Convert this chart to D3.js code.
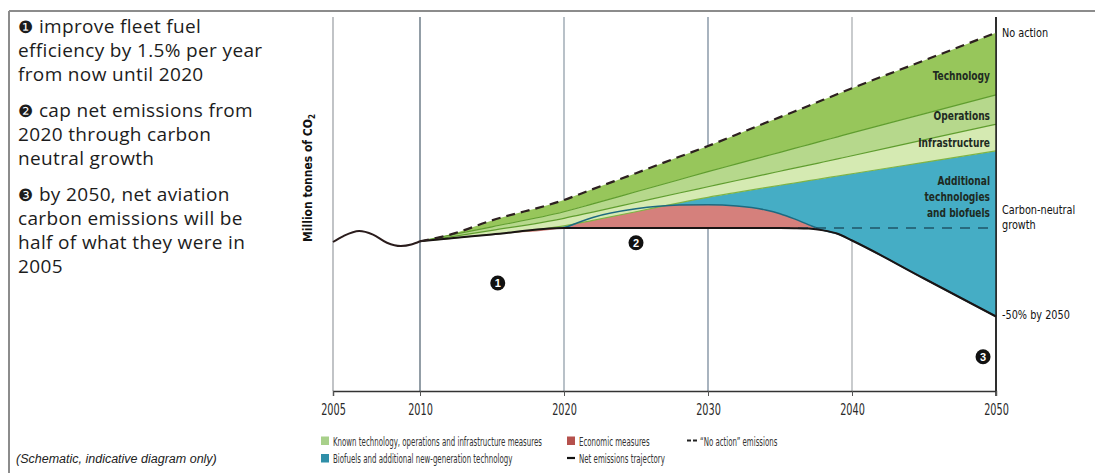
<!DOCTYPE html>
<html>
<head>
<meta charset="utf-8">
<script src="https://cdn.jsdelivr.net/npm/d3@7"></script>
<style>
  html, body { margin: 0; padding: 0; background: #fff; }
  svg { display: block; }
  .narrow { font-family: "DejaVu Sans Condensed", "DejaVu Sans", sans-serif; }
</style>
</head>
<body>
<svg id="chart" width="1095" height="473"></svg>
<script>
// ---- Data (schematic index, 2005 emissions = 100) ----
const years = [2010, 2012, 2015, 2020, 2022, 2025, 2028, 2030, 2032, 2034, 2035, 2036, 2037, 2038, 2039, 2040, 2045, 2050];
const noAction      = [100.5, 104.7, 114.5, 128.2, 135.5, 146.2, 157.2, 164.4, 172.2, 180.0, 183.8, 187.6, 191.5, 195.4, 199.3, 203.2, 221.8, 240.5];
const technologyFloor = [100.5, 104.4, 110.2, 120.3, 125.6, 133.7, 141.8, 147.2, 152.4, 157.6, 160.2, 162.8, 165.4, 168.0, 170.6, 173.2, 186.0, 198.7];
const operationsFloor = [100.5, 103.3, 107.8, 115.9, 120.1, 126.5, 132.9, 137.1, 141.3, 145.4, 147.5, 149.6, 151.6, 153.7, 155.8, 157.9, 168.5, 179.0];
const infrastructureFloor = [100.5, 102.3, 105.1, 110.8, 114.5, 120.3, 126.3, 130.0, 133.3, 136.5, 138.1, 139.6, 141.2, 142.7, 144.3, 145.8, 153.5, 161.1];
const economicTop   = [100.5, 102.3, 105.1, 109.4, 116.5, 122.3, 124.8, 125.0, 124.2, 121.5, 119.0, 115.5, 111.5, 107.8, 105.5, 101.0, 75.5, 50.0];
const netTrajectory = [100.5, 102.3, 105.1, 109.4, 109.4, 109.4, 109.4, 109.4, 109.4, 109.4, 109.4, 109.3, 109.0, 107.8, 105.5, 101.0, 75.5, 50.0];

const historyYears  = [2005, 2005.6, 2006.5, 2007.3, 2008.1, 2008.9, 2009.5, 2010];
const historyValues = [100, 104, 107.4, 105, 99.5, 97.3, 98.3, 100.5];

const carbonNeutralLevel = 109.4;
const carbonNeutralSpan = [2020, 2050];

const tickYears = [2005, 2010, 2020, 2030, 2040, 2050];

const steps = [
  { mark: "\u2776", lines: ["improve fleet fuel", "efficiency by 1.5% per year", "from now until 2020"] },
  { mark: "\u2777", lines: ["cap net emissions from", "2020 through carbon", "neutral growth"] },
  { mark: "\u2778", lines: ["by 2050, net aviation", "carbon emissions will be", "half of what they were in", "2005"] }
];
const stepMarkers = [
  { label: "1", year: 2015.4, value: 72.5 },
  { label: "2", year: 2025.0, value: 99.5 },
  { label: "3", year: 2049.1, value: 23.0 }
];

const bandLabels = [
  { lines: ["Technology"], value: 209 },
  { lines: ["Operations"], value: 182 },
  { lines: ["Infrastructure"], value: 163.5 },
  { lines: ["Additional", "technologies", "and biofuels"], value: 138.5 }
];
const sideLabels = [
  { lines: ["No action"], value: 237.5 },
  { lines: ["Carbon-neutral", "growth"], value: 118.5 },
  { lines: ["-50% by 2050"], value: 48 }
];

const legendItems = [
  { kind: "swatch", color: "#a8d08a", text: "Known technology, operations and infrastructure measures", col: 0, row: 0 },
  { kind: "swatch", color: "#2f8fa8", text: "Biofuels and additional new-generation technology", col: 0, row: 1 },
  { kind: "swatch", color: "#b5514d", text: "Economic measures", col: 1, row: 0 },
  { kind: "line", color: "#111", text: "Net emissions trajectory", col: 1, row: 1 },
  { kind: "dash", color: "#222", text: "\u201CNo action\u201D emissions", col: 2, row: 0 }
];

// ---- Layout ----
const svg = d3.select("#chart");
const x = d3.scaleLinear().domain([2005, 2010, 2050]).range([333, 420, 996]);
const y = d3.scaleLinear().domain([0, 100]).range([391, 242]);
const gridTop = 17;
const axisY = y(0);

// Draws text squeezed horizontally around its anchor point (condensed face)
function condensedText(parent, px, py, k) {
  return parent.append("text").attr("transform", `translate(${px},${py}) scale(${k},1)`);
}

// Frame
svg.append("line").attr("x1", 9).attr("x2", 1095).attr("y1", 11).attr("y2", 11)
  .attr("stroke", "#8c8c8c").attr("stroke-width", 2);
svg.append("line").attr("x1", 9).attr("x2", 9).attr("y1", 11).attr("y2", 473)
  .attr("stroke", "#8c8c8c").attr("stroke-width", 2);

// Gridlines
const gridTone = { 2005: "#8e9398", 2010: "#3a4d5e", 2020: "#7f8e9b", 2030: "#62768a", 2040: "#9da1a5", 2050: "#1a1a1a" };
svg.append("g").selectAll("line").data(tickYears).join("line")
  .attr("x1", d => x(d)).attr("x2", d => x(d))
  .attr("y1", gridTop).attr("y2", axisY)
  .attr("stroke", d => gridTone[d]).attr("stroke-width", d => d === 2050 ? 1.4 : 1.1);

// Bands
const rows = years.map((yr, i) => ({
  year: yr, noAction: noAction[i], tech: technologyFloor[i], ops: operationsFloor[i],
  infra: infrastructureFloor[i], econ: economicTop[i], net: netTrajectory[i]
}));
const curve = d3.curveMonotoneX;
const band = (top, bottom) => d3.area().curve(curve)
  .x(d => x(d.year)).y0(d => y(d[bottom])).y1(d => y(d[top]));
const edge = key => d3.line().curve(curve).x(d => x(d.year)).y(d => y(d[key]));

const plot = svg.append("g");
plot.append("path").datum(rows).attr("d", band("infra", "net")).attr("fill", "#45adc5");
plot.append("path").datum(rows).attr("d", band("econ", "net")).attr("fill", "#d5807c");
plot.append("path").datum(rows).attr("d", band("ops", "infra")).attr("fill", "#d5eab2");
plot.append("path").datum(rows).attr("d", band("tech", "ops")).attr("fill", "#b6d88c");
plot.append("path").datum(rows).attr("d", band("noAction", "tech")).attr("fill", "#97c65b");

// Band edges
plot.append("path").datum(rows).attr("d", edge("tech")).attr("fill", "none").attr("stroke", "#5f9d2e").attr("stroke-width", 1.2);
plot.append("path").datum(rows).attr("d", edge("ops")).attr("fill", "none").attr("stroke", "#5f9d2e").attr("stroke-width", 1.2);
plot.append("path").datum(rows).attr("d", edge("infra")).attr("fill", "none").attr("stroke", "#7fb444").attr("stroke-width", 1.2);
plot.append("path").datum(rows.filter(d => d.year >= 2020)).attr("d", edge("econ")).attr("fill", "none").attr("stroke", "#1d6a80").attr("stroke-width", 1.5);

// Carbon-neutral growth level
plot.append("line")
  .attr("x1", x(carbonNeutralSpan[0])).attr("x2", x(carbonNeutralSpan[1]))
  .attr("y1", y(carbonNeutralLevel)).attr("y2", y(carbonNeutralLevel))
  .attr("stroke", "#1f5668").attr("stroke-width", 1.6).attr("stroke-dasharray", "10,8");

// Net emissions trajectory
const history = historyYears.map((yr, i) => ({ year: yr, v: historyValues[i] }));
plot.append("path").datum(history)
  .attr("d", d3.line().curve(d3.curveMonotoneX).x(d => x(d.year)).y(d => y(d.v)))
  .attr("fill", "none").attr("stroke", "#2a1c1c").attr("stroke-width", 2);
plot.append("path").datum(rows).attr("d", edge("net"))
  .attr("fill", "none").attr("stroke", "#1a1414").attr("stroke-width", 2);

// "No action" emissions
plot.append("path").datum(rows).attr("d", edge("noAction"))
  .attr("fill", "none").attr("stroke", "#2d2020").attr("stroke-width", 2.2).attr("stroke-dasharray", "9,6");

// Right edge line over the bands
svg.append("line").attr("x1", x(2050)).attr("x2", x(2050)).attr("y1", gridTop).attr("y2", axisY + 5)
  .attr("stroke", "#1a1a1a").attr("stroke-width", 1.4);

// X axis
const axis = svg.append("g").attr("transform", `translate(0,${axisY})`)
  .call(d3.axisBottom(x).tickValues(tickYears).tickFormat(d3.format("d")).tickSize(5).tickPadding(8));
axis.select(".domain").attr("stroke", "#333").attr("stroke-width", 1.4);
axis.selectAll(".tick line").attr("stroke", "#555");
axis.selectAll(".tick text").attr("class", "narrow").attr("font-size", 15).attr("fill", "#2a2a2a")
  .attr("transform", "scale(0.72,1)");

// Y axis title
const yt = svg.append("text").attr("class", "narrow")
  .attr("transform", `translate(312,178) rotate(-90)`)
  .attr("text-anchor", "middle").attr("font-size", 12).attr("font-weight", "bold").attr("fill", "#111");
yt.append("tspan").text("Million tonnes of CO");
yt.append("tspan").text("2").attr("font-size", 8).attr("dy", 3);

// Band labels
bandLabels.forEach(lb => {
  const t = condensedText(svg, 990, y(lb.value), 0.84).attr("class", "narrow").attr("text-anchor", "end")
    .attr("font-size", 12).attr("font-weight", "bold").attr("fill", "#1e2a22");
  lb.lines.forEach((ln, i) => t.append("tspan").attr("x", 0).attr("y", i * 16).text(ln));
});

// Side labels
sideLabels.forEach(lb => {
  const t = condensedText(svg, 1002, y(lb.value), 0.9).attr("class", "narrow")
    .attr("font-size", 12).attr("fill", "#111");
  lb.lines.forEach((ln, i) => t.append("tspan").attr("x", 0).attr("y", i * 15).text(ln));
});

// Step markers
const mk = svg.append("g").selectAll("g").data(stepMarkers).join("g")
  .attr("transform", d => `translate(${x(d.year)},${y(d.value)})`);
mk.append("circle").attr("r", 7.5).attr("fill", "#111");
mk.append("text").text(d => d.label).attr("text-anchor", "middle").attr("dy", 4)
  .attr("font-family", "Liberation Sans, sans-serif").attr("font-weight", "bold")
  .attr("font-size", 11).attr("fill", "#fff");

// Left-hand notes
const notes = svg.append("g").attr("font-family", "'Open Sans', sans-serif")
  .attr("font-size", 19).attr("letter-spacing", 0.35).attr("fill", "#1c1c1c");
let baseline = 33;
steps.forEach(s => {
  s.lines.forEach((ln, i) => {
    const t = notes.append("text").attr("x", 18).attr("y", baseline);
    if (i === 0) {
      t.append("tspan").text(s.mark).attr("font-family", "DejaVu Sans").attr("font-size", 17);
      t.append("tspan").text(" " + ln);
    } else {
      t.text(ln);
    }
    baseline += 24;
  });
  baseline += 12;
});

// Legend
const legendCols = [321, 567, 687];
const legendRows = [445.5, 463];
const lg = svg.append("g").attr("class", "narrow").attr("font-size", 11.5).attr("fill", "#333");
legendItems.forEach(it => {
  const lx = legendCols[it.col], ly = legendRows[it.row];
  if (it.kind === "swatch") {
    lg.append("rect").attr("x", lx).attr("y", ly - 9).attr("width", 8).attr("height", 8.5).attr("fill", it.color);
  } else if (it.kind === "line") {
    lg.append("line").attr("x1", lx).attr("x2", lx + 8).attr("y1", ly - 5).attr("y2", ly - 5)
      .attr("stroke", it.color).attr("stroke-width", 2.2);
  } else {
    lg.append("line").attr("x1", lx).attr("x2", lx + 10).attr("y1", ly - 5).attr("y2", ly - 5)
      .attr("stroke", it.color).attr("stroke-width", 2).attr("stroke-dasharray", "4,2");
  }
  condensedText(lg, lx + (it.kind === "dash" ? 13 : 12), ly, 0.68).text(it.text);
});

// Footnote
svg.append("text").attr("x", 16).attr("y", 463)
  .attr("font-family", "Liberation Sans, Arial, sans-serif").attr("font-style", "italic")
  .attr("font-size", 12.5).attr("fill", "#222").text("(Schematic, indicative diagram only)");
</script>
</body>
</html>
